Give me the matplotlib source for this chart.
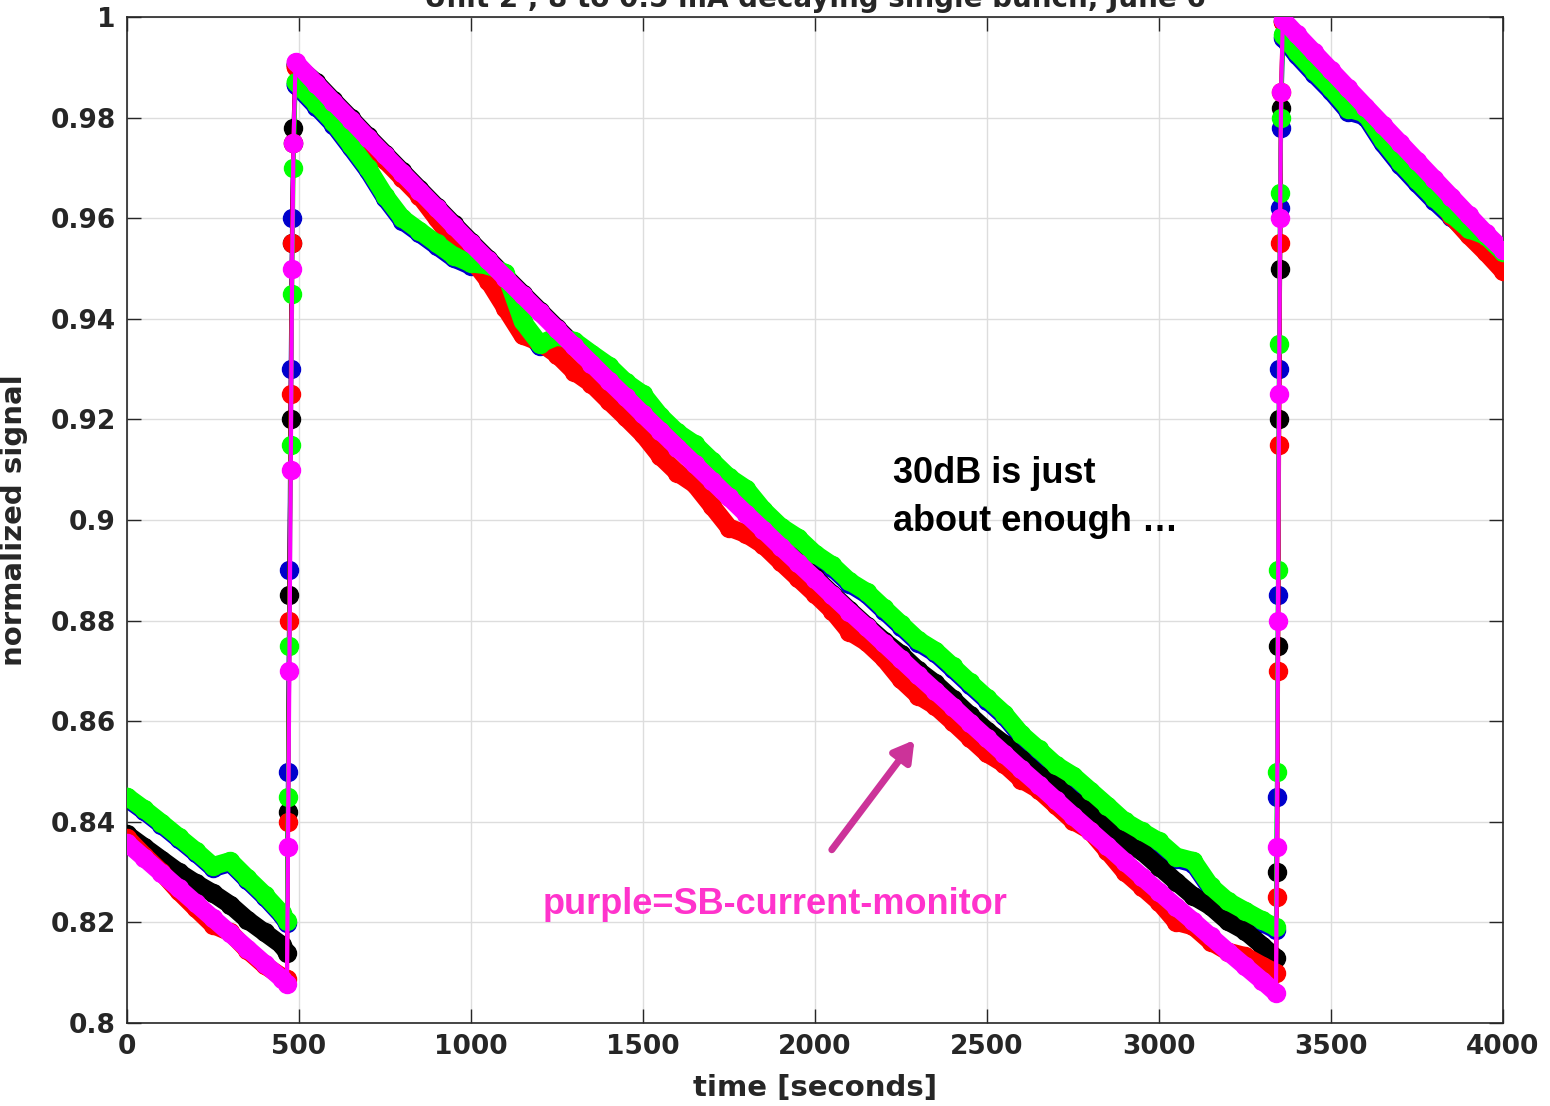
import matplotlib
matplotlib.use('Agg')
import matplotlib.pyplot as plt

plt.rcParams['font.family'] = ['DejaVu Sans']
plt.rcParams['font.weight'] = 'bold'

# time [s] : before 1st injection, 1st injection, decay, 2nd injection, after
t_a = [0, 50, 100, 150, 200, 250, 300, 350, 400, 450, 465]
t_j1 = [468, 472, 476, 480, 484]
t_b = [490, 550, 600, 650, 700, 750, 800, 850, 900, 950, 1000, 1050, 1100, 1150,
       1200, 1250, 1300, 1350, 1400, 1450, 1500, 1550, 1600, 1650, 1700, 1750, 1800,
       1850, 1900, 1950, 2000, 2050, 2100, 2150, 2200, 2250, 2300, 2350, 2400, 2450,
       2500, 2550, 2600, 2650, 2700, 2750, 2800, 2850, 2900, 2950, 3000, 3050, 3100,
       3150, 3200, 3250, 3300, 3340]
t_j2 = [3343, 3346, 3349, 3352, 3355]
t_c = [3360, 3400, 3450, 3500, 3550, 3600, 3650, 3700, 3750, 3800, 3850, 3900, 3950, 4000]

# blue
blue_a = [0.8446, 0.8421, 0.8394, 0.8366, 0.8338, 0.8308, 0.8318, 0.8284, 0.8251, 0.8214, 0.8199]
blue_j1 = [0.850, 0.890, 0.930, 0.960, 0.975]
blue_b = [0.9865, 0.9822, 0.9786, 0.9741, 0.9695, 0.9640, 0.9595, 0.9570, 0.9545, 0.9520,
          0.9505, 0.9501, 0.9486, 0.9390, 0.9345, 0.9360, 0.9351, 0.9326, 0.9302, 0.9269,
          0.9245, 0.9202, 0.9169, 0.9146, 0.9113, 0.9080, 0.9057, 0.9015, 0.8982, 0.8960,
          0.8928, 0.8905, 0.8873, 0.8852, 0.8820, 0.8788, 0.8756, 0.8735, 0.8704, 0.8672,
          0.8641, 0.8610, 0.8569, 0.8539, 0.8508, 0.8487, 0.8457, 0.8427, 0.8396, 0.8376,
          0.8356, 0.8326, 0.8317, 0.8267, 0.8237, 0.8218, 0.8199, 0.8185]
blue_j2 = [0.845, 0.885, 0.930, 0.962, 0.978]
blue_c = [0.9959, 0.9924, 0.9887, 0.9852, 0.9812, 0.9802, 0.9749, 0.9706, 0.9669, 0.9634,
          0.9602, 0.9572, 0.9559, 0.9526]

# black
black_a = [0.8375, 0.8350, 0.8325, 0.8300, 0.8278, 0.8258, 0.8235, 0.8205, 0.8180, 0.8155, 0.8140]
black_j1 = [0.842, 0.885, 0.920, 0.955, 0.978]
black_b = [0.9905, 0.9870, 0.9834, 0.9799, 0.9763, 0.9728, 0.9693, 0.9658, 0.9623, 0.9588,
           0.9553, 0.9519, 0.9484, 0.9450, 0.9416, 0.9382, 0.9348, 0.9314, 0.9280, 0.9247,
           0.9213, 0.9180, 0.9147, 0.9114, 0.9081, 0.9048, 0.9015, 0.8983, 0.8950, 0.8918,
           0.8886, 0.8853, 0.8821, 0.8790, 0.8760, 0.8733, 0.8701, 0.8675, 0.8644, 0.8612,
           0.8581, 0.8555, 0.8524, 0.8494, 0.8473, 0.8442, 0.8422, 0.8392, 0.8361, 0.8341,
           0.8311, 0.8281, 0.8252, 0.8232, 0.8202, 0.8183, 0.8154, 0.8130]
black_j2 = [0.830, 0.875, 0.920, 0.950, 0.982]
black_c = [0.9992, 0.9962, 0.9926, 0.9890, 0.9854, 0.9818, 0.9782, 0.9746, 0.9708, 0.9668,
           0.9626, 0.9588, 0.9550, 0.9515]

# red
red_a = [0.8368, 0.8333, 0.8300, 0.8262, 0.8228, 0.8195, 0.8180, 0.8145, 0.8115, 0.8092, 0.8088]
red_j1 = [0.840, 0.880, 0.925, 0.955, 0.975]
red_b = [0.9900, 0.9857, 0.9821, 0.9786, 0.9750, 0.9715, 0.9680, 0.9645, 0.9600, 0.9555,
         0.9520, 0.9476, 0.9421, 0.9367, 0.9353, 0.9329, 0.9295, 0.9271, 0.9237, 0.9204,
         0.9170, 0.9127, 0.9094, 0.9071, 0.9028, 0.8985, 0.8972, 0.8950, 0.8917, 0.8885,
         0.8853, 0.8820, 0.8778, 0.8757, 0.8725, 0.8683, 0.8651, 0.8630, 0.8599, 0.8567,
         0.8536, 0.8515, 0.8484, 0.8464, 0.8433, 0.8402, 0.8382, 0.8342, 0.8301, 0.8271,
         0.8241, 0.8201, 0.8192, 0.8162, 0.8142, 0.8133, 0.8114, 0.8100]
red_j2 = [0.825, 0.870, 0.915, 0.955, 0.985]
red_c = [0.9990, 0.9958, 0.9922, 0.9886, 0.9850, 0.9813, 0.9776, 0.9740, 0.9697, 0.9651,
         0.9604, 0.9566, 0.9532, 0.9495]

# green
green_a = [0.8450, 0.8425, 0.8398, 0.8370, 0.8342, 0.8312, 0.8322, 0.8288, 0.8255, 0.8218, 0.8203]
green_j1 = [0.845, 0.875, 0.915, 0.945, 0.970]
green_b = [0.9870, 0.9827, 0.9791, 0.9746, 0.9700, 0.9645, 0.9600, 0.9575, 0.9550, 0.9525,
           0.9510, 0.9506, 0.9491, 0.9395, 0.9350, 0.9365, 0.9356, 0.9331, 0.9307, 0.9274,
           0.9250, 0.9207, 0.9174, 0.9151, 0.9118, 0.9085, 0.9062, 0.9020, 0.8987, 0.8965,
           0.8933, 0.8910, 0.8878, 0.8857, 0.8825, 0.8793, 0.8761, 0.8740, 0.8709, 0.8677,
           0.8646, 0.8615, 0.8574, 0.8544, 0.8513, 0.8492, 0.8462, 0.8432, 0.8401, 0.8381,
           0.8361, 0.8331, 0.8322, 0.8272, 0.8242, 0.8223, 0.8204, 0.8190]
green_j2 = [0.850, 0.890, 0.935, 0.965, 0.980]
green_c = [0.9965, 0.9930, 0.9893, 0.9858, 0.9818, 0.9808, 0.9755, 0.9712, 0.9675, 0.9640,
           0.9608, 0.9578, 0.9565, 0.9532]

# purple = SB current monitor
mag_a = [0.8358, 0.8328, 0.8298, 0.8268, 0.8238, 0.8208, 0.8178, 0.8148, 0.8118, 0.8088, 0.8078]
mag_j1 = [0.835, 0.870, 0.910, 0.950, 0.975]
mag_b = [0.9910, 0.9867, 0.9831, 0.9796, 0.9760, 0.9725, 0.9690, 0.9655, 0.9620, 0.9585,
         0.9550, 0.9516, 0.9481, 0.9447, 0.9413, 0.9379, 0.9345, 0.9311, 0.9277, 0.9244,
         0.9210, 0.9177, 0.9144, 0.9111, 0.9078, 0.9045, 0.9012, 0.8980, 0.8947, 0.8915,
         0.8883, 0.8850, 0.8818, 0.8787, 0.8755, 0.8723, 0.8691, 0.8660, 0.8629, 0.8597,
         0.8566, 0.8535, 0.8504, 0.8474, 0.8443, 0.8412, 0.8382, 0.8352, 0.8321, 0.8291,
         0.8261, 0.8231, 0.8202, 0.8172, 0.8142, 0.8113, 0.8084, 0.8060]
mag_j2 = [0.835, 0.880, 0.925, 0.960, 0.985]
mag_c = [0.9995, 0.9966, 0.9930, 0.9894, 0.9858, 0.9822, 0.9786, 0.9750, 0.9714, 0.9678,
         0.9642, 0.9606, 0.9570, 0.9537]

x_ticks = [0, 500, 1000, 1500, 2000, 2500, 3000, 3500, 4000]
y_ticks = [0.8, 0.82, 0.84, 0.86, 0.88, 0.9, 0.92, 0.94, 0.96, 0.98, 1.0]
y_ticklabels = ['0.8', '0.82', '0.84', '0.86', '0.88', '0.9', '0.92', '0.94', '0.96', '0.98', '1']

fig = plt.figure(figsize=(15.5, 11.06), dpi=100)
ax = fig.add_axes([127 / 1550, 1 - 1023 / 1106, 1376 / 1550, 1006 / 1106])


def draw(a, j1, b, j2, c, color, z):
    # thick band for the decaying parts, thin line + markers for everything
    for tt, vv in ((t_a, a), (t_b, b), (t_c, c)):
        ax.plot(tt, vv, '-', color=color, lw=13, solid_capstyle='round', zorder=z)
    ax.plot(t_a + t_j1 + t_b + t_j2 + t_c, a + j1 + b + j2 + c, '-o', color=color,
            lw=3, ms=13, zorder=z)


draw(blue_a, blue_j1, blue_b, blue_j2, blue_c, '#0000cc', 2)
draw(black_a, black_j1, black_b, black_j2, black_c, '#000000', 3)
draw(red_a, red_j1, red_b, red_j2, red_c, '#ff0000', 4)
draw(green_a, green_j1, green_b, green_j2, green_c, '#00ff00', 5)
draw(mag_a, mag_j1, mag_b, mag_j2, mag_c, '#ff00ff', 6)

ax.set_xlim(0, 4000)
ax.set_ylim(0.8, 1.0)
ax.set_xticks(x_ticks)
ax.set_yticks(y_ticks)
ax.set_yticklabels(y_ticklabels)
ax.tick_params(direction='in', top=True, right=True, length=10, width=1,
               labelsize=19, colors='#262626', pad=8)
ax.grid(True, color='#dddddd', lw=1)
ax.set_axisbelow(True)
for s in ax.spines.values():
    s.set_color('#262626')
    s.set_linewidth(1.2)

ax.set_xlabel('time [seconds]', fontsize=21, fontweight='bold', color='#262626')
ax.set_ylabel('normalized signal', fontsize=21, fontweight='bold', color='#262626')
ax.xaxis.set_label_coords(0.5, -0.051)
ax.yaxis.set_label_coords(-0.072, 0.5)
ax.set_title('Unit 2 , 8 to 0.5 mA decaying single bunch, June 6', fontsize=20,
             fontweight='bold', color='#262626', pad=7)

ax.text(2227, 0.9128, '30dB is just\nabout enough \u2026', fontsize=26, fontweight='bold',
        family=['Liberation Sans', 'DejaVu Sans'], color='black', va='top', ha='left',
        linespacing=1.5, zorder=10)
ax.text(1209, 0.8235, 'purple=SB-current-monitor', fontsize=26, fontweight='bold',
        family=['Liberation Sans', 'DejaVu Sans'], color='#ff33cc', va='center', ha='left',
        zorder=10)
ax.annotate('', xy=(2294, 0.8567), xytext=(2044, 0.834),
            arrowprops=dict(arrowstyle='-|>,head_length=1.2,head_width=0.7',
                            color='#cc3399', lw=5), zorder=10)

fig.savefig('out.png', dpi=100)
